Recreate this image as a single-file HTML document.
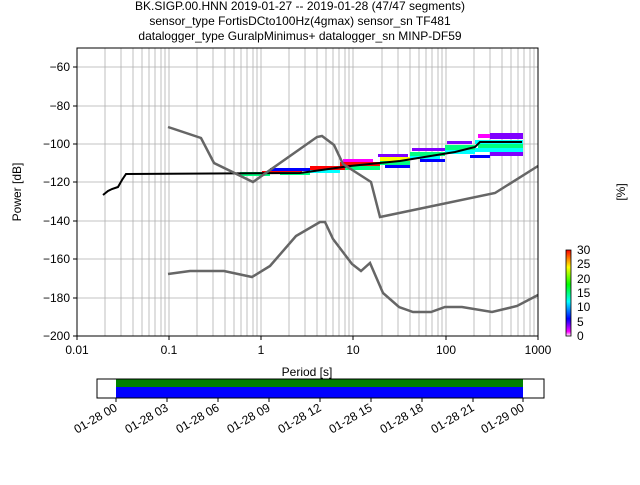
<!DOCTYPE html>
<html><head><style>body{margin:0;background:#fff}svg{font-family:"Liberation Sans","DejaVu Sans",sans-serif}</style></head><body>
<svg width="640" height="480" viewBox="0 0 640 480" xmlns="http://www.w3.org/2000/svg">
<g font-size="12" text-anchor="middle" fill="#000">
<text x="300" y="10">BK.SIGP.00.HNN   2019-01-27 -- 2019-01-28  (47/47 segments)</text>
<text x="300" y="25">sensor_type FortisDCto100Hz(4gmax) sensor_sn TF481</text>
<text x="300" y="40">datalogger_type GuralpMinimus+ datalogger_sn MINP-DF59</text>
</g>
<g stroke="#b0b0b0" stroke-width="0.8">
<path d="M77,67H538M77,106H538M77,144H538M77,182H538M77,221H538M77,259H538M77,298H538"/>
<path id="g" d="M105,48V336M121,48V336M133,48V336M142,48V336M149,48V336M155,48V336M161,48V336M165,48V336M169,48V336"/>
<use href="#g" x="92"/><use href="#g" x="184"/><use href="#g" x="277"/><use href="#g" x="369"/>
</g>
<g>
<rect x="240" y="172" width="30" height="4" fill="#00ff80"/>
<rect x="262" y="171" width="40" height="3" fill="#ff0000"/>
<rect x="270" y="168" width="40" height="3" fill="#0000ff"/>
<rect x="280" y="172" width="30" height="3" fill="#00ff80"/>
<rect x="310" y="166" width="40" height="4" fill="#ff0000"/>
<rect x="310" y="170" width="30" height="3" fill="#00ffff"/>
<rect x="340" y="162" width="40" height="4" fill="#ff0000"/>
<rect x="345" y="166" width="35" height="4" fill="#00ff80"/>
<rect x="343" y="159" width="30" height="3" fill="#ff00ff"/>
<rect x="380" y="157" width="30" height="4" fill="#ffff00"/>
<rect x="380" y="161" width="30" height="4" fill="#00ff80"/>
<rect x="378" y="154" width="30" height="3" fill="#8000ff"/>
<rect x="385" y="165" width="25" height="3" fill="#0000ff"/>
<rect x="410" y="152" width="35" height="4" fill="#00ff80"/>
<rect x="410" y="156" width="30" height="3" fill="#00ffff"/>
<rect x="412" y="148" width="35" height="3" fill="#8000ff"/>
<rect x="420" y="159" width="25" height="3" fill="#0000ff"/>
<rect x="445" y="145" width="30" height="5" fill="#00ff80"/>
<rect x="445" y="150" width="30" height="4" fill="#00ffff"/>
<rect x="447" y="141" width="25" height="3" fill="#8000ff"/>
<rect x="475" y="140" width="48" height="4" fill="#00ffff"/>
<rect x="478" y="144" width="45" height="4" fill="#00ff80"/>
<rect x="475" y="148" width="48" height="4" fill="#00ffff"/>
<rect x="478" y="134" width="25" height="4" fill="#ff00ff"/>
<rect x="490" y="133" width="33" height="6" fill="#8000ff"/>
<rect x="490" y="152" width="33" height="4" fill="#8000ff"/>
<rect x="470" y="155" width="20" height="3" fill="#0000ff"/>
</g>
<path d="M103,195L108,191L112,189L118,187L122,180L126,174L300,173L350,166L400,161L455,152L475,147L480,142L522,142" fill="none" stroke="#000" stroke-width="2"/>
<g fill="none" stroke="#666" stroke-width="2.5">
<path d="M168,127L201,138L214,163L253,182L317,137L322,136L334,145L343,164L371,182L380,217L495,193L538,166"/>
<path d="M168,274L190,271L224,271L252,277L270,266L296,236L320,222L325,222L333,239L352,264L361,271L370,263L383,293L399,307L413,312L431,312L445,307L462,307L492,312L517,306L538,295"/>
</g>
<rect x="77" y="48" width="461" height="288" fill="none" stroke="#000" stroke-width="1"/>
<g stroke="#000"><path d="M77,336v4M169,336v4M261,336v4M353,336v4M446,336v4M538,336v4M77,67h-4M77,106h-4M77,144h-4M77,182h-4M77,221h-4M77,259h-4M77,298h-4M77,336h-4"/></g>
<g font-size="12" text-anchor="middle">
<text x="77" y="354">0.01</text><text x="169" y="354">0.1</text><text x="261" y="354">1</text><text x="353" y="354">10</text><text x="446" y="354">100</text><text x="538" y="354">1000</text>
<text x="307" y="376">Period [s]</text>
</g>
<g font-size="12" text-anchor="end">
<text x="70" y="71">−60</text><text x="70" y="110">−80</text><text x="70" y="148">−100</text><text x="70" y="186">−120</text><text x="70" y="225">−140</text><text x="70" y="263">−160</text><text x="70" y="302">−180</text><text x="70" y="340">−200</text>
</g>
<text transform="translate(21,192) rotate(-90)" font-size="12" text-anchor="middle">Power [dB]</text>
<text transform="translate(625,192) rotate(-90)" font-size="12" text-anchor="middle">[%]</text>
<defs><linearGradient id="cb" x1="0" y1="1" x2="0" y2="0">
<stop offset="0" stop-color="#ffffff"/><stop offset="0.05" stop-color="#ff00ff"/><stop offset="0.2" stop-color="#0000ff"/><stop offset="0.4" stop-color="#00ffff"/><stop offset="0.6" stop-color="#00ff00"/><stop offset="0.8" stop-color="#ffff00"/><stop offset="0.9" stop-color="#ff8000"/><stop offset="1" stop-color="#ff0000"/></linearGradient></defs>
<rect x="566" y="250" width="5" height="86" fill="url(#cb)" stroke="#000" stroke-width="0.8"/>
<g font-size="12"><text x="577" y="254">30</text><text x="577" y="268">25</text><text x="577" y="283">20</text><text x="577" y="297">15</text><text x="577" y="311">10</text><text x="577" y="326">5</text><text x="577" y="340">0</text></g>
<rect x="97" y="379" width="447" height="19" fill="#fff" stroke="#000"/>
<rect x="116" y="379" width="407" height="8" fill="#008000"/>
<rect x="116" y="387" width="407" height="10.5" fill="#0000ff"/>
<rect x="97" y="379" width="447" height="19" fill="none" stroke="#000"/>
<g stroke="#000"><path d="M116,398v4M167,398v4M218,398v4M269,398v4M320,398v4M371,398v4M422,398v4M473,398v4M523,398v4"/></g>
<g font-size="12" text-anchor="end">
<text transform="translate(118,410) rotate(-30)">01-28 00</text>
<text transform="translate(169,410) rotate(-30)">01-28 03</text>
<text transform="translate(220,410) rotate(-30)">01-28 06</text>
<text transform="translate(271,410) rotate(-30)">01-28 09</text>
<text transform="translate(322,410) rotate(-30)">01-28 12</text>
<text transform="translate(373,410) rotate(-30)">01-28 15</text>
<text transform="translate(424,410) rotate(-30)">01-28 18</text>
<text transform="translate(475,410) rotate(-30)">01-28 21</text>
<text transform="translate(525,410) rotate(-30)">01-29 00</text>
</g>
</svg>
</body></html>
